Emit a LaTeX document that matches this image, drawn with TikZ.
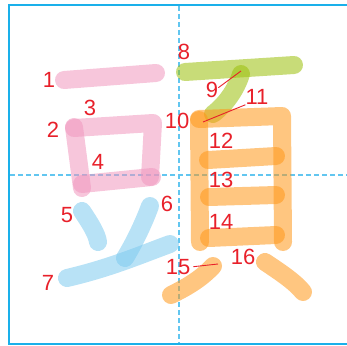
\documentclass[tikz,border=0pt]{standalone}
\usepackage{fontspec}
\setmainfont{Liberation Sans}
\definecolor{frame-blue}{HTML}{1AB0EA}
\definecolor{guide-blue}{HTML}{62C6F0}
\definecolor{num-red}{HTML}{E8202A}
\definecolor{stroke-pink}{HTML}{F097BE}
\definecolor{stroke-blue}{HTML}{7ECAEF}
\definecolor{stroke-green}{HTML}{9BBF0A}
\definecolor{stroke-orange}{HTML}{FF9718}

\begin{document}
\begin{tikzpicture}[x=1pt, y=-1pt,
      every node/.style={font=\fontsize{22}{22}\selectfont, text=num-red, inner sep=0pt},
      brush/.style={line width=18pt, line cap=round, line join=round, draw opacity=0.55},
      leader/.style={num-red, line width=0.9pt}]
    \useasboundingbox (0,0) rectangle (347,345);
    \begin{scope}
      \clip (0,0) rectangle (347,345);
      \draw[frame-blue, line width=2pt] (9,5) rectangle (360,344);
    \end{scope}
    \draw[guide-blue, line width=1.5pt, dash pattern=on 5pt off 3pt] (179,6) -- (179,343);
    \draw[guide-blue, line width=1.5pt, dash pattern=on 5pt off 3pt] (10,175) -- (347,175);
    \draw[brush, stroke-pink] (64,80) -- (156,73);
    \draw[brush, stroke-pink] (74,127) -- (82,188);
    \draw[brush, stroke-pink] (74,128) -- (153,123) -- (150,177);
    \draw[brush, stroke-pink] (82,184) -- (152,177);
    \draw[brush, stroke-blue] (82,211) .. controls (90,223) and (97,234) .. (98,242);
    \draw[brush, stroke-blue] (150,206) .. controls (143,225) and (133,245) .. (125,258);
    \draw[brush, stroke-blue] (67,278) .. controls (110,268) and (140,255) .. (170,244);
    \draw[brush, stroke-green] (185,72) -- (294,65);
    \draw[brush, stroke-green] (241,74) .. controls (236,90) and (225,105) .. (213,114);
    \draw[brush, stroke-orange] (199,120) -- (200,242);
    \draw[brush, stroke-orange] (199,119) -- (282,116) -- (283,242);
    \draw[brush, stroke-orange] (208,160) -- (276,156);
    \draw[brush, stroke-orange] (209,197) -- (276,195);
    \draw[brush, stroke-orange] (209,238) -- (276,235);
    \draw[brush, stroke-orange] (213,266) .. controls (200,280) and (185,288) .. (171,295);
    \draw[brush, stroke-orange] (265,262) .. controls (280,272) and (295,282) .. (303,292);
    \coordinate (s9) at (241,71);
    \coordinate (s11) at (203,122);
    \coordinate (s15) at (218,264);
    \node (n1) at (49,80) {1};
    \node (n2) at (53,130) {2};
    \node (n3) at (90,108) {3};
    \node (n4) at (98,162) {4};
    \node (n5) at (67,215) {5};
    \node (n6) at (167,204) {6};
    \node (n7) at (48,283) {7};
    \node (n8) at (184,52) {8};
    \node (n9) at (212,90) {9};
    \node (n10) at (177,121) {10};
    \node (n11) at (257,97) {11};
    \node (n12) at (221,141) {12};
    \node (n13) at (221,180) {13};
    \node (n14) at (221,222) {14};
    \node (n15) at (178,267) {15};
    \node (n16) at (243,257) {16};
    \draw[leader] (n9.20) -- (s9);
    \draw[leader] (n11.south west) -- (s11);
    \draw[leader, shorten <=3pt] (n15.east) -- (s15);
  \end{tikzpicture}
\end{document}
